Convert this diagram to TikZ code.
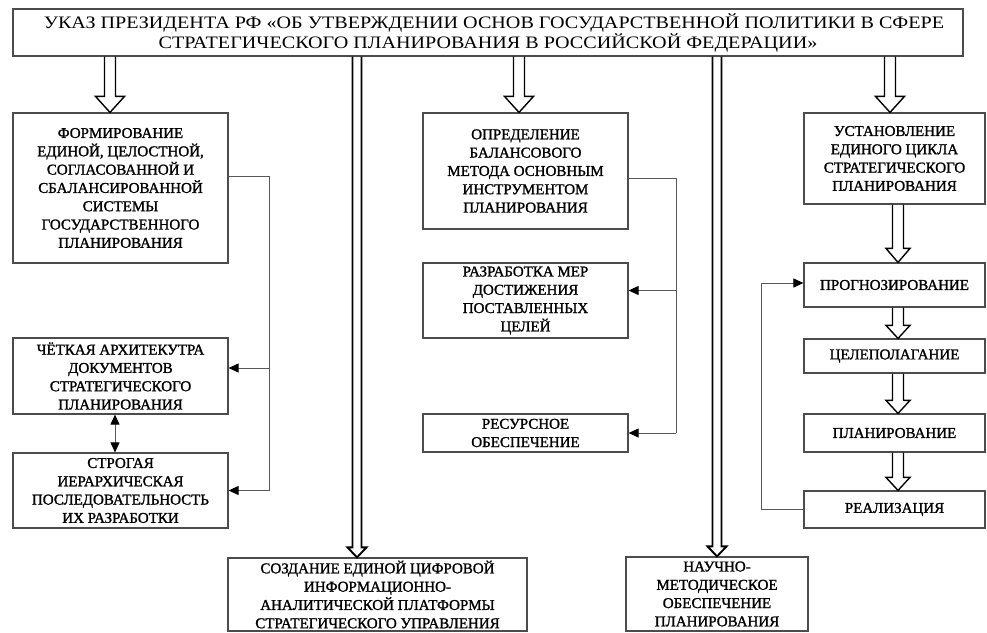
\documentclass[tikz,border=0pt]{standalone}
\usepackage{fontspec}
\setmainfont{Liberation Serif}[FakeBold=1.4]
\newfontfamily\titlefont{Liberation Serif}[FakeStretch=1.15]
\usepackage{tikz}
\usetikzlibrary{arrows.meta,calc,positioning}

% hollow block arrow: [style] x, from node, to node, half shaft, half head, head length
\newcommand{\hollowdown}[7][hollow]{%
  \draw[#1] let \p3=(#2,0), \p1=(#3.south), \p2=(#4.north) in
    ({\x3-#5pt},\y1) -- ({\x3-#5pt},{\y2+#7pt}) -- ({\x3-#6pt},{\y2+#7pt}) -- (\x3,\y2)
    -- ({\x3+#6pt},{\y2+#7pt}) -- ({\x3+#5pt},{\y2+#7pt}) -- ({\x3+#5pt},\y1);}

\begin{document}
\begin{tikzpicture}[x=1pt, y=-1pt,
    box/.style={draw=black!70, line width=1.2pt, align=center, inner sep=0pt,
      font=\fontsize{15}{18.3}\selectfont},
    hollow/.style={draw=black, line width=1.4pt, line join=miter},
    thin/.style={draw=black, line width=1.9pt, line join=miter},
    conn/.style={draw=black!65, line width=1pt},
    tip/.style={-{Triangle[length=10pt,width=9pt,color=black]}}]
  \useasboundingbox (0,0) rectangle (987,632);

  \node[box, minimum width=950, minimum height=47, font=\titlefont\fontsize{17.5}{20}\selectfont] (title) at (488,32.5)
    {\hspace*{12pt}УКАЗ ПРЕЗИДЕНТА РФ «ОБ УТВЕРЖДЕНИИ ОСНОВ ГОСУДАРСТВЕННОЙ ПОЛИТИКИ В СФЕРЕ\\
     СТРАТЕГИЧЕСКОГО ПЛАНИРОВАНИЯ В РОССИЙСКОЙ ФЕДЕРАЦИИ»};

  \node[box, minimum width=215, minimum height=150] (form) at (120.5,188)
    {ФОРМИРОВАНИЕ\\ЕДИНОЙ, ЦЕЛОСТНОЙ,\\СОГЛАСОВАННОЙ И\\СБАЛАНСИРОВАННОЙ\\СИСТЕМЫ\\ГОСУДАРСТВЕННОГО\\ПЛАНИРОВАНИЯ};
  \node[box, minimum width=215, minimum height=76] (arch) at (120.5,376)
    {ЧЁТКАЯ АРХИТЕКУТРА\\ДОКУМЕНТОВ\\СТРАТЕГИЧЕСКОГО\\ПЛАНИРОВАНИЯ};
  \node[box, minimum width=215, minimum height=75] (hier) at (120.5,490.5)
    {СТРОГАЯ\\ИЕРАРХИЧЕСКАЯ\\ПОСЛЕДОВАТЕЛЬНОСТЬ\\ИХ РАЗРАБОТКИ};

  \node[box, minimum width=205, minimum height=116] (bal) at (525.5,171)
    {ОПРЕДЕЛЕНИЕ\\БАЛАНСОВОГО\\МЕТОДА ОСНОВНЫМ\\ИНСТРУМЕНТОМ\\ПЛАНИРОВАНИЯ};
  \node[box, minimum width=205, minimum height=75] (meas) at (525.5,300.5)
    {РАЗРАБОТКА МЕР\\ДОСТИЖЕНИЯ\\ПОСТАВЛЕННЫХ\\ЦЕЛЕЙ};
  \node[box, minimum width=205, minimum height=38] (res) at (525.5,433)
    {РЕСУРСНОЕ\\ОБЕСПЕЧЕНИЕ};

  \node[box, minimum width=181, minimum height=91] (cycle) at (894.5,158.5)
    {УСТАНОВЛЕНИЕ\\ЕДИНОГО ЦИКЛА\\СТРАТЕГИЧЕСКОГО\\ПЛАНИРОВАНИЯ};
  \node[box, minimum width=181, minimum height=44] (prog) at (894.5,285) {ПРОГНОЗИРОВАНИЕ};
  \node[box, minimum width=181, minimum height=34] (goal) at (894.5,356) {ЦЕЛЕПОЛАГАНИЕ};
  \node[box, minimum width=181, minimum height=38] (plan) at (894.5,433) {ПЛАНИРОВАНИЕ};
  \node[box, minimum width=181, minimum height=37] (real) at (894.5,509.5) {РЕАЛИЗАЦИЯ};

  \node[box, minimum width=299, minimum height=73] (digit) at (377.5,594.5)
    {СОЗДАНИЕ ЕДИНОЙ ЦИФРОВОЙ\\ИНФОРМАЦИОННО-\\АНАЛИТИЧЕСКОЙ ПЛАТФОРМЫ\\СТРАТЕГИЧЕСКОГО УПРАВЛЕНИЯ};
  \node[box, minimum width=182, minimum height=74] (sci) at (717,594)
    {НАУЧНО-\\МЕТОДИЧЕСКОЕ\\ОБЕСПЕЧЕНИЕ\\ПЛАНИРОВАНИЯ};

  \hollowdown{110}{title}{form}{5.5}{14.5}{16}
  \hollowdown{519}{title}{bal}{5.5}{14.5}{16}
  \hollowdown{890}{title}{cycle}{5.5}{14.5}{16}
  \hollowdown[thin]{357}{title}{digit}{4.5}{9.5}{10}
  \hollowdown[thin]{717}{title}{sci}{4.5}{9.5}{10}
  \hollowdown{898}{cycle}{prog}{5.5}{12}{14}
  \hollowdown{898}{prog}{goal}{5.5}{12}{13}
  \hollowdown{898}{goal}{plan}{5.5}{12}{13}
  \hollowdown{898}{plan}{real}{5.5}{12}{13}

  \coordinate (lbus) at (269,0);
  \coordinate (mbus) at (676,0);
  \coordinate (rbus) at (761,0);

  \draw[conn] ([yshift=12pt]form.east) -| (lbus |- hier.east);
  \draw[conn,tip] (lbus |- hier.east) -- (hier.east);
  \draw[conn,tip] ([yshift=8pt]arch.east -| lbus) -- ([yshift=8pt]arch.east);
  \draw[conn,{Triangle[length=10pt,width=9pt,color=black]}-{Triangle[length=10pt,width=9pt,color=black]}] (arch.south -| 115,0) -- (hier.north -| 115,0);

  \draw[conn] ([yshift=-7pt]bal.east) -| (mbus |- res.east);
  \draw[conn,tip] (mbus |- res.east) -- (res.east);
  \draw[conn,tip] ([yshift=10pt]meas.east -| mbus) -- ([yshift=10pt]meas.east);

  \draw[conn] (real.west) -| ([yshift=2pt]prog.west -| rbus);
  \draw[conn,tip] ([yshift=2pt]prog.west -| rbus) -- ([yshift=2pt]prog.west);
\end{tikzpicture}
\end{document}
